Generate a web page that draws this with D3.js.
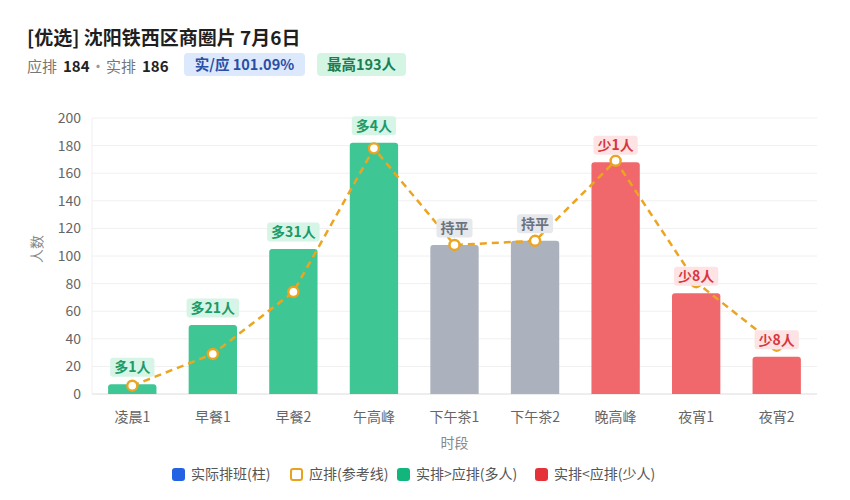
<!DOCTYPE html>
<html>
<head>
<meta charset="utf-8">
<script src="https://cdn.jsdelivr.net/npm/d3@7"></script>
<style>
  body { margin: 0; background: #fff; font-family: "Noto Sans CJK SC", "Noto Sans", sans-serif; }
  svg text { font-family: "Noto Sans CJK SC", "Noto Sans", sans-serif; }
</style>
</head>
<body>
<svg id="chart"></svg>
<script>
// data
const periods = ["凌晨1", "早餐1", "早餐2", "午高峰", "下午茶1", "下午茶2", "晚高峰", "夜宵1", "夜宵2"];
const actual = [7, 50, 105, 182, 108, 111, 168, 73, 27];
const expected = [6, 29, 74, 178, 108, 111, 169, 81, 35];
const yTicks = [0, 20, 40, 60, 80, 100, 120, 140, 160, 180, 200];
const summary = { title: "[优选] 沈阳铁西区商圈片 7月6日", planned: 184, scheduled: 186, ratio: "101.09%", peak: 193 };
const legendItems = ["实际排班(柱)", "应排(参考线)", "实排>应排(多人)", "实排<应排(少人)"];

const W = 850, H = 500;
const margin = { top: 118, right: 33, bottom: 106, left: 92 };
const width = W - margin.left - margin.right,
  height = H - margin.top - margin.bottom;

const svg = d3.select("#chart").attr("width", W).attr("height", H);

// header
svg.append("text").attr("x", 27).attr("y", 45)
  .attr("font-size", 19).attr("font-weight", 700).attr("fill", "#1f1f1f")
  .text(summary.title);

// subtitle: grey words, bold numbers
[["应排", 27, "#777", 400, "start"], [summary.planned, 63, "#222", 700, "start"], ["·", 98, "#999", 400, "middle"],
 ["实排", 106, "#777", 400, "start"], [summary.scheduled, 142, "#222", 700, "start"]].forEach(s => {
  svg.append("text").attr("x", s[1]).attr("y", 72).attr("font-size", 15)
    .attr("fill", s[2]).attr("font-weight", s[3]).attr("text-anchor", s[4]).text(s[0]);
});

function pill(x, txt, fg, bg, w) {
  svg.append("rect").attr("x", x).attr("y", 53).attr("width", w).attr("height", 23)
    .attr("rx", 4).attr("fill", bg);
  svg.append("text").attr("x", x + w / 2).attr("y", 70).attr("text-anchor", "middle")
    .attr("font-size", 14.5).attr("font-weight", 700).attr("fill", fg).text(txt);
}
pill(184, "实/应 " + summary.ratio, "#2a4ea6", "#dce8fb", 121);
pill(317, "最高" + summary.peak + "人", "#1d7d52", "#d4f5e4", 89);

const g = svg.append("g").attr("transform", `translate(${margin.left},${margin.top})`);

const x = d3.scaleBand().domain(periods).range([0, width]).paddingInner(0.4).paddingOuter(0.2);
const y = d3.scaleLinear().domain([0, 200]).range([height, 0]);

// grid
g.selectAll("line.grid").data(yTicks).enter().append("line")
  .attr("x1", 0).attr("x2", width)
  .attr("y1", d => y(d)).attr("y2", d => y(d))
  .attr("stroke", d => d === 0 ? "#dcdcdc" : "#f0f0f0").attr("stroke-width", 1);
g.append("line").attr("x1", 0).attr("x2", 0).attr("y1", 0).attr("y2", height)
  .attr("stroke", "#f0f0f0");

// axes
const yAxis = g.append("g").call(d3.axisLeft(y).tickValues(yTicks).tickSize(0).tickPadding(11));
yAxis.select(".domain").remove();
yAxis.selectAll("text").attr("font-size", 14).attr("fill", "#666");

const xAxis = g.append("g").attr("transform", `translate(0,${height})`)
  .call(d3.axisBottom(x).tickSize(0).tickPadding(18));
xAxis.select(".domain").remove();
xAxis.selectAll("text").attr("font-size", 14).attr("fill", "#666");

g.append("text").attr("x", width / 2).attr("y", height + 54).attr("text-anchor", "middle")
  .attr("font-size", 14).attr("fill", "#888").text("时段");
g.append("text").attr("transform", `translate(${-50},${height / 2 - 7}) rotate(-90)`)
  .attr("text-anchor", "middle").attr("font-size", 14).attr("fill", "#888").text("人数");

const rows = periods.map((p, i) => ({ p, a: actual[i], e: expected[i], d: actual[i] - expected[i] }));
const barColor = d => d.d > 0 ? "#3ec795" : d.d < 0 ? "#f0686b" : "#abb2bd";

// bars with rounded tops
g.selectAll("path.bar").data(rows).enter().append("path")
  .attr("fill", barColor)
  .attr("d", d => {
    const x0 = x(d.p), w = x.bandwidth(), y0 = y(d.a), r = 3;
    return `M${x0},${height}V${y0 + r}Q${x0},${y0} ${x0 + r},${y0}H${x0 + w - r}Q${x0 + w},${y0} ${x0 + w},${y0 + r}V${height}Z`;
  });

// reference line
const line = d3.line().x(d => x(d.p) + x.bandwidth() / 2).y(d => y(d.e));
g.append("path").datum(rows).attr("d", line).attr("fill", "none")
  .attr("stroke", "#eba520").attr("stroke-width", 2.5).attr("stroke-dasharray", "7,5");
g.selectAll("circle.pt").data(rows).enter().append("circle")
  .attr("cx", d => x(d.p) + x.bandwidth() / 2).attr("cy", d => y(d.e)).attr("r", 5)
  .attr("fill", "#fff").attr("stroke", "#eba520").attr("stroke-width", 2.4);

// diff labels, sitting above each bar
const lab = g.selectAll("g.lab").data(rows).enter().append("g")
  .attr("transform", d => `translate(${x(d.p) + x.bandwidth() / 2},${y(d.a) - 17})`);
lab.append("text").attr("text-anchor", "middle").attr("dy", "0.36em")
  .attr("font-size", 14).attr("font-weight", 700)
  .attr("fill", d => d.d > 0 ? "#1b9a68" : d.d < 0 ? "#d9353d" : "#6b7280")
  .text(d => d.d > 0 ? `多${d.d}人` : d.d < 0 ? `少${-d.d}人` : "持平");
lab.each(function () {
  const gg = d3.select(this), bb = gg.select("text").node().getBBox();
  const d = gg.datum();
  gg.insert("rect", "text").attr("x", bb.x - 4).attr("y", -9.5).attr("width", bb.width + 8).attr("height", 19)
    .attr("rx", 3).attr("fill", d.d > 0 ? "#d6f5e6" : d.d < 0 ? "#fde3e3" : "#e6e8ec");
});

// legend
const legendX = [172, 290, 397, 535];
const legend = svg.append("g").attr("transform", "translate(0,474)");
legendItems.forEach((t, i) => {
  const lg = legend.append("g").attr("transform", `translate(${legendX[i]},0)`);
  if (i === 1) {
    lg.append("rect").attr("x", 1).attr("y", -5).attr("width", 11).attr("height", 11).attr("rx", 2)
      .attr("fill", "#fff").attr("stroke", "#e8a31c").attr("stroke-width", 2);
  } else {
    lg.append("rect").attr("x", 0).attr("y", -6).attr("width", 13).attr("height", 13).attr("rx", 3)
      .attr("fill", ["#2362e3", null, "#12b57c", "#e53238"][i]);
  }
  lg.append("text").attr("x", 19).attr("dy", "0.36em").attr("font-size", 14).attr("fill", "#555").text(t);
});
</script>
</body>
</html>
